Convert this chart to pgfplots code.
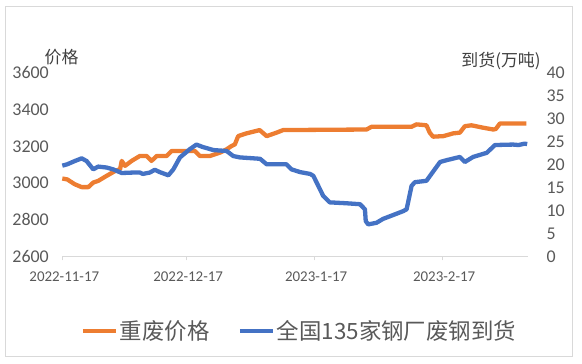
\documentclass[border=0pt]{standalone}
\usepackage{fontspec}
\setmainfont{Carlito}
\newfontfamily\cjk{Noto Sans CJK SC}
\usepackage{pgfplots}
\pgfplotsset{compat=1.18}
\definecolor{cOrange}{HTML}{ED7D31}
\definecolor{cBlue}{HTML}{4472C4}
\definecolor{cText}{HTML}{595959}
\definecolor{cTitle}{HTML}{404040}
\definecolor{cAxis}{HTML}{D9D9D9}
\definecolor{cFrame}{HTML}{D9D9D9}
\pgfplotsset{
  common/.style={
    at={(62.3bp,107.5bp)}, anchor=south west, scale only axis,
    width=465.7bp, height=183.5bp,
    xmin=0, xmax=112.8,
    tick align=outside, major tick length=4bp,
    /pgf/number format/1000 sep={}, /pgf/number format/assume math mode=true,
    clip=false,
  }
}
\begin{document}
\begin{tikzpicture}
\path[use as bounding box] (0,0) rectangle (582bp,364bp);
\draw[cFrame, line width=1bp] (5bp,7bp) rectangle (572bp,357bp);
\begin{axis}[common,
  ymin=2600, ymax=3600,
  axis x line*=bottom, axis y line*=left,
  x axis line style={cAxis, line width=1bp, -},
  y axis line style={draw=none},
  xtick={0,30,61,92},
  xticklabels={2022-11-17,2022-12-17,2023-1-17,2023-2-17},
  xtick style={cAxis, line width=1bp},
  ytick={2600,2800,...,3600}, ytick style={draw=none},
  yticklabel style={font=\fontsize{18}{18}\selectfont, text=cText, anchor=east, xshift=-6bp},
  xticklabel style={font=\fontsize{15}{16}\selectfont, text=cText, yshift=-8bp, xshift=2bp},
]
\addplot[cOrange, line width=4.3bp, line join=round] coordinates {
(0,3025) (1.2,3020) (3,2994) (4.7,2978) (6.3,2978) (7.5,3003) (8.7,3012)
(10.7,3039) (12.8,3066) (14,3076) (14.4,3121) (15.2,3094) (16.8,3121)
(18.8,3148) (20.4,3148) (21.6,3121) (22.9,3148) (25.3,3148) (26.5,3175)
(32.1,3175) (33.3,3148) (35.8,3148) (38.2,3166) (39.8,3184) (41,3202)
(41.8,3211) (42.6,3256) (44.6,3271) (47.8,3289) (49.5,3256) (51.9,3275)
(53.5,3289) (73.7,3292) (74.9,3307) (84.6,3307) (85.8,3320) (88.2,3315)
(89,3275) (89.8,3253) (92.3,3256) (94.7,3271) (96.3,3275) (97.5,3310)
(99.1,3315) (101.9,3302) (104.4,3292) (105,3295) (106,3325) (112.4,3325)
};
\end{axis}
\begin{axis}[common,
  ymin=0, ymax=40,
  hide x axis,
  axis y line*=right,
  y axis line style={draw=none},
  ytick={0,5,...,40}, ytick style={draw=none},
  yticklabel style={font=\fontsize{18}{18}\selectfont, text=cText, anchor=west, xshift=11bp},
  legend columns=2,
  legend style={draw=none, fill=none, at={(0.509,-0.406)}, anchor=center,
    font=\cjk\fontsize{22.5}{24}\selectfont, text=cText,
    /tikz/every even column/.append style={column sep=26bp}},
  legend image code/.code={\draw[#1] (0bp,0bp) -- (33bp,0bp);},
]
\addlegendimage{cOrange, line width=4.3bp}
\addlegendentry{重废价格}
\addplot[cBlue, line width=4.3bp, line join=round] coordinates {
(0,19.8) (1.2,20.1) (3,20.8) (4.7,21.4) (5.9,20.8) (7.5,19.0) (8.7,19.6)
(10.7,19.4) (12.3,19.0) (14.4,18.2) (17.2,18.3) (18.8,18.3) (19.5,18.0)
(21.2,18.3) (22.4,18.9) (23.6,18.4) (25.7,17.7) (26.9,19.0) (28.5,21.6)
(30.9,23.4) (32.5,24.4) (33.9,23.9) (36.6,23.2) (39.8,23.0) (41.4,21.9)
(43,21.6) (47.9,21.3) (49.5,20.1) (51.9,20.1) (54.3,20.1) (55.5,19.0)
(57.6,18.4) (60,18.0) (60.8,17.6) (62,15.4) (63.2,13.2) (64.8,11.8)
(68.9,11.6) (72.1,11.4) (73.3,10.3) (73.5,7.7) (74.1,7.0) (76.1,7.35)
(77.7,8.2) (80.6,9.2) (82.6,9.9) (83.4,10.3) (84.6,15.4) (85.4,16.2)
(88.2,16.5) (91.5,20.6) (93.1,21.0) (96.3,21.7) (97.5,20.6) (99.5,21.7)
(102.8,22.6) (104.8,24.3) (109.2,24.4) (110.5,24.3) (112,24.6) (112.6,24.5)
};
\addlegendentry{全国135家钢厂废钢到货}
\end{axis}
\node[font=\cjk\fontsize{17}{17}\selectfont, text=cTitle] at (61.5bp,307bp) {价格};
\node[font=\cjk\fontsize{17}{17}\selectfont, text=cTitle] at (501bp,303bp) {到货(万吨)};
\end{tikzpicture}
\end{document}
